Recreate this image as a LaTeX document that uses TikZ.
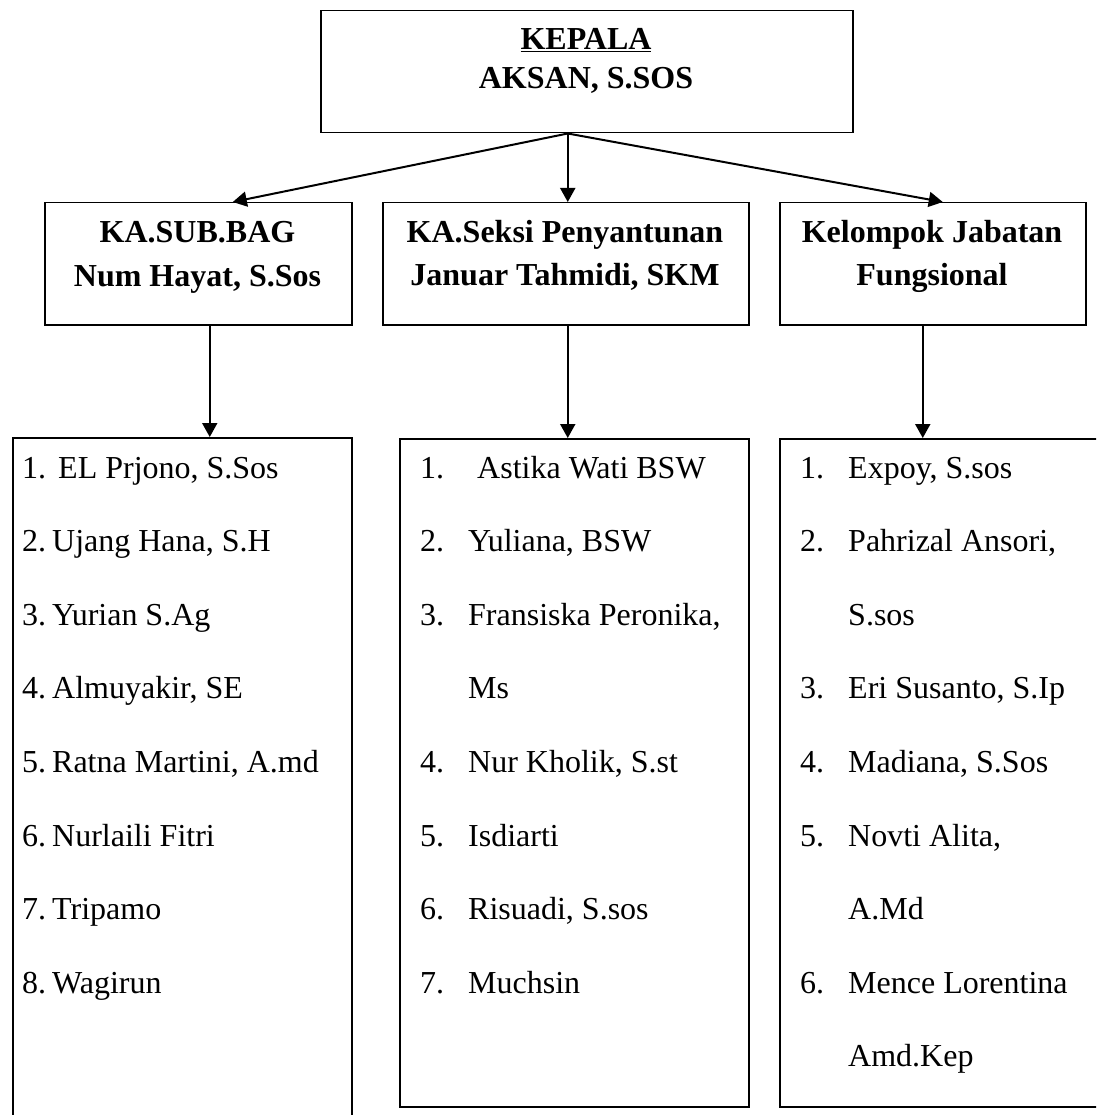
\documentclass[tikz,border=0pt]{standalone}
\usepackage{fontspec}
\setmainfont{Liberation Serif}
\usetikzlibrary{arrows.meta}
\begin{document}
\begin{tikzpicture}[x=1pt,y=-1pt,
  box/.style={draw, line width=1.5pt, inner sep=0pt, anchor=north west},
  hdr/.style={font=\fontsize{32}{40}\selectfont\bfseries, anchor=base, inner sep=0pt},
  item/.style={font=\fontsize{32}{40}\selectfont, anchor=base west, inner sep=0pt},
  arr/.style={line width=2pt, -{Triangle[length=14pt,width=15pt]}}]
\useasboundingbox (0,0) rectangle (1096,1115);
\clip (0,0) rectangle (1096,1115);
% boxes
\node[box, minimum width=532pt, minimum height=122pt] (kepala) at (320,10) {};
\node[box, minimum width=307pt, minimum height=122pt] (subbag) at (44,202) {};
\node[box, minimum width=366pt, minimum height=122pt] (seksi) at (382,202) {};
\node[box, minimum width=306pt, minimum height=122pt] (fungs) at (779,202) {};
\node[box, minimum width=339pt, minimum height=720pt] (list1) at (12,437) {};
\node[box, minimum width=349pt, minimum height=668pt] (list2) at (399,438) {};
\node[box, minimum width=340pt, minimum height=668pt] (list3) at (779,438) {};
% headers
\node[hdr] (k1) at (586,50) {\underline{KEPALA}};
\node[hdr] (k2) at (586,89) {AKSAN, S.SOS};
\node[hdr] (s1) at (197.5,243) {KA.SUB.BAG};
\node[hdr] (s2) at (197.5,286) {Num Hayat, S.Sos};
\node[hdr] (p1) at (565,243) {KA.Seksi Penyantunan};
\node[hdr] (p2) at (565,285) {Januar Tahmidi, SKM};
\node[hdr] (f1) at (932,242) {Kelompok Jabatan};
\node[hdr] (f2) at (932,285) {Fungsional};
% left list
\node[item] (a1) at (22,478)    {\makebox[36pt][l]{1.}EL Prjono, S.Sos};
\node[item] (a2) at (22,551.6)  {\makebox[30pt][l]{2.}Ujang Hana, S.H};
\node[item] (a3) at (22,625.2)  {\makebox[30pt][l]{3.}Yurian S.Ag};
\node[item] (a4) at (22,698.8)  {\makebox[30pt][l]{4.}Almuyakir, SE};
\node[item] (a5) at (22,772.4)  {\makebox[30pt][l]{5.}Ratna Martini, A.md};
\node[item] (a6) at (22,846)    {\makebox[30pt][l]{6.}Nurlaili Fitri};
\node[item] (a7) at (22,919.6)  {\makebox[30pt][l]{7.}Tripamo};
\node[item] (a8) at (22,993.2)  {\makebox[30pt][l]{8.}Wagirun};
% middle list
\node[item] (b1) at (420,478)   {\makebox[57pt][l]{1.}Astika Wati BSW};
\node[item] (b2) at (420,551.6) {\makebox[48pt][l]{2.}Yuliana, BSW};
\node[item] (b3) at (420,625.2) {\makebox[48pt][l]{3.}Fransiska Peronika,};
\node[item] (b3b) at (468,698.8) {Ms};
\node[item] (b4) at (420,772.4) {\makebox[48pt][l]{4.}Nur Kholik, S.st};
\node[item] (b5) at (420,846)   {\makebox[48pt][l]{5.}Isdiarti};
\node[item] (b6) at (420,919.6) {\makebox[48pt][l]{6.}Risuadi, S.sos};
\node[item] (b7) at (420,993.2) {\makebox[48pt][l]{7.}Muchsin};
% right list
\node[item] (c1) at (800,478)   {\makebox[48pt][l]{1.}Expoy, S.sos};
\node[item] (c2) at (800,551.6) {\makebox[48pt][l]{2.}Pahrizal Ansori,};
\node[item] (c2b) at (848,625.2) {S.sos};
\node[item] (c3) at (800,698.8) {\makebox[48pt][l]{3.}Eri Susanto, S.Ip};
\node[item] (c4) at (800,772.4) {\makebox[48pt][l]{4.}Madiana, S.Sos};
\node[item] (c5) at (800,846)   {\makebox[48pt][l]{5.}Novti Alita,};
\node[item] (c5b) at (848,919.6) {A.Md};
\node[item] (c6) at (800,993.2) {\makebox[48pt][l]{6.}Mence Lorentina};
\node[item] (c6b) at (848,1066.8) {Amd.Kep};
% connectors
\coordinate (hub) at ([xshift=-19pt]kepala.south);
\draw[arr] (hub) -- ([xshift=34.5pt]subbag.north);
\draw[arr] (hub) -- ([xshift=2pt]seksi.north);
\draw[arr] (hub) -- ([xshift=10pt]fungs.north);
\coordinate (d1) at ([xshift=11.5pt]subbag.south);
\coordinate (d2) at ([xshift=2pt]seksi.south);
\coordinate (d3) at ([xshift=-10pt]fungs.south);
\draw[arr] (d1) -- (d1 |- list1.north);
\draw[arr] (d2) -- (d2 |- list2.north);
\draw[arr] (d3) -- (d3 |- list3.north);
\end{tikzpicture}
\end{document}
